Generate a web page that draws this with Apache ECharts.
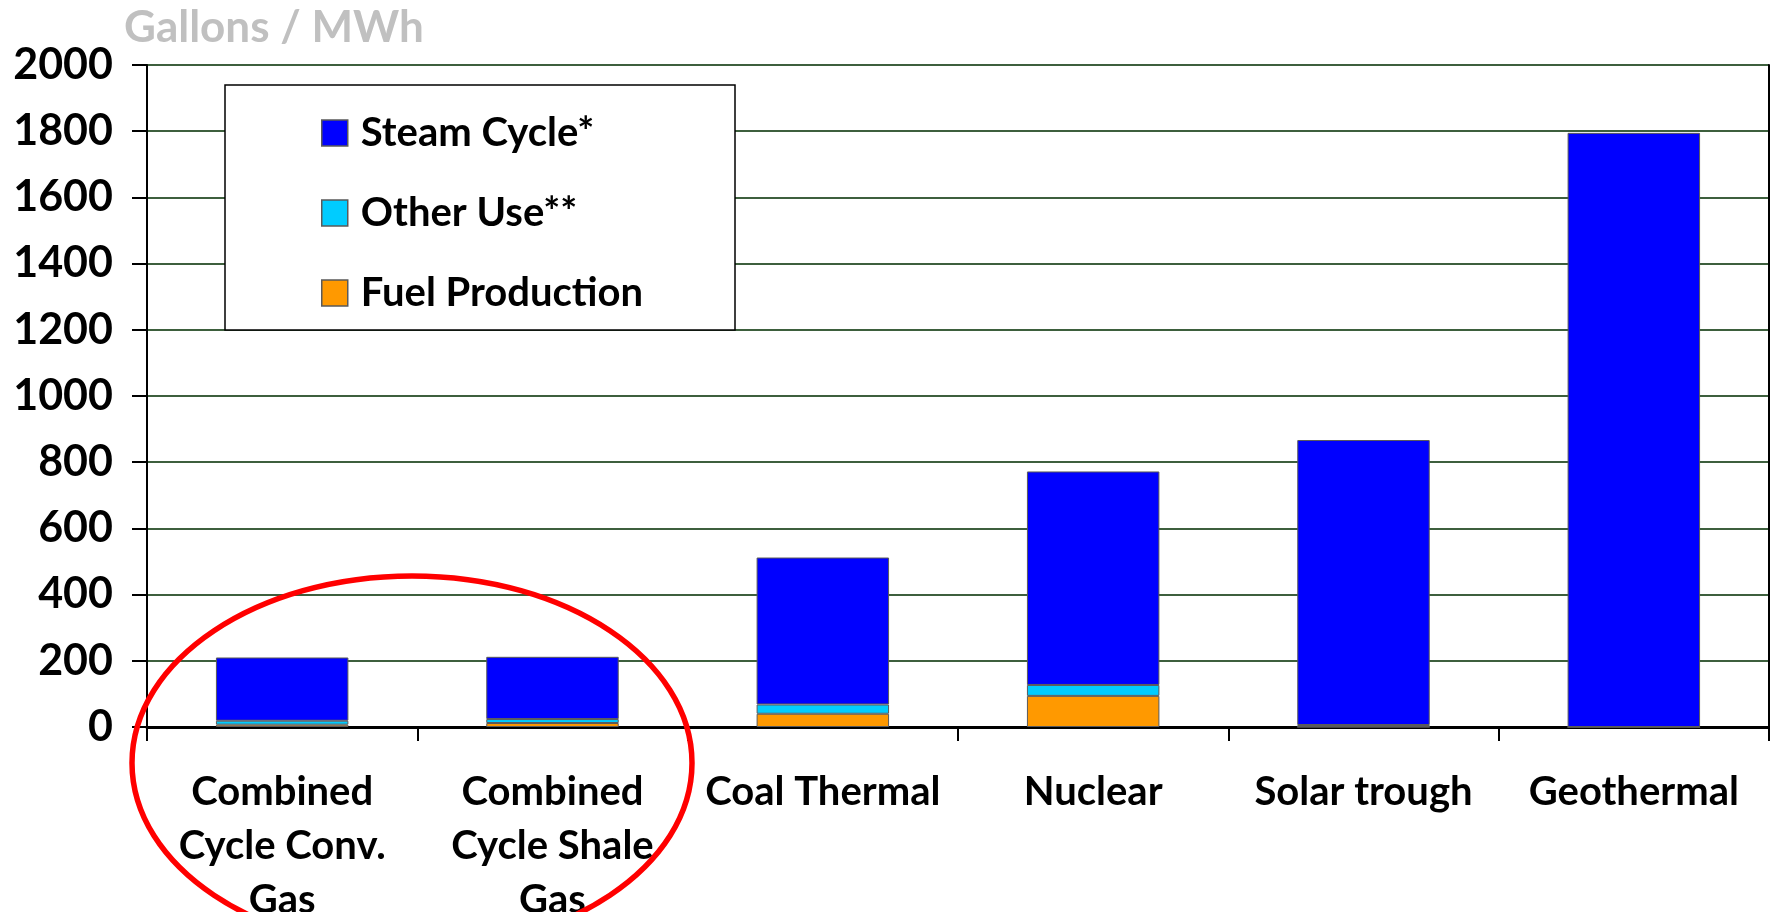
<!DOCTYPE html>
<html>
<head>
<meta charset="utf-8">
<title>Gallons / MWh</title>
<script src="https://cdn.jsdelivr.net/npm/echarts@6/dist/echarts.min.js"></script>
<style>
  html, body { margin: 0; padding: 0; background: #fff; }
  #chart { width: 1770px; height: 912px; }
</style>
</head>
<body>
<div id="chart"></div>
<script>
/* data */
var categories = ['Combined\nCycle Conv.\nGas', 'Combined\nCycle Shale\nGas', 'Coal Thermal', 'Nuclear', 'Solar trough', 'Geothermal'];
var fuelProduction = [7, 12, 40, 94, 0, 0];
var otherUse = [12, 12, 28, 33, 6, 0];
var steamCycle = [191, 188, 444, 645, 861, 1795];
var yTicks = [0, 200, 400, 600, 800, 1000, 1200, 1400, 1600, 1800, 2000];

var FONT = 'Lato';
var chart = echarts.init(document.getElementById('chart'));

function barSeries(name, data, color) {
  return {
    name: name,
    type: 'bar',
    stack: 'total',
    data: data,
    barWidth: '49%',
    itemStyle: { color: color, borderColor: '#5a5a5a', borderWidth: 1 },
    emphasis: { disabled: true }
  };
}

chart.setOption({
  animation: false,
  textStyle: { fontFamily: FONT },
  grid: { left: 147, right: 1, top: 65, bottom: 185, outerBoundsMode: 'none', containLabel: false },
  legend: {
    z: 10,
    orient: 'vertical',
    left: 316,
    top: 108,
    itemWidth: 26,
    itemHeight: 26,
    itemGap: 40,
    icon: 'rect',
    itemStyle: { borderColor: '#5a5a5a', borderWidth: 1.5 },
    textStyle: { fontFamily: FONT, fontWeight: 'bold', fontSize: 40, color: '#000', padding: [0, 0, 0, 8] },
    data: ['Steam Cycle*', 'Other Use**', 'Fuel Production']
  },
  xAxis: [{
    type: 'category',
    data: categories,
    axisLine: { lineStyle: { color: '#000', width: 3 } },
    axisTick: { show: true, length: 14, lineStyle: { color: '#000', width: 2 } },
    axisLabel: {
      interval: 0, color: '#000', fontFamily: FONT, fontWeight: 'bold',
      fontSize: 40, lineHeight: 54, margin: 38
    }
  }, {
    type: 'category',
    position: 'top',
    data: categories,
    axisLine: { lineStyle: { color: '#000', width: 2 } },
    axisTick: { show: false },
    axisLabel: { show: false }
  }],
  yAxis: [{
    type: 'value',
    min: 0,
    max: 2000,
    interval: 200,
    axisLine: { show: true, lineStyle: { color: '#000', width: 2 } },
    axisTick: { show: true, length: 15, lineStyle: { color: '#000', width: 2 } },
    axisLabel: {
      color: '#000', fontFamily: FONT, fontWeight: 'bold', fontSize: 43, margin: 34,
      formatter: function (v) { return yTicks.indexOf(v) >= 0 ? String(v) : ''; }
    },
    splitLine: { show: true, lineStyle: { color: '#3d5f3d', width: 2 } }
  }, {
    type: 'value',
    position: 'right',
    min: 0,
    max: 2000,
    interval: 200,
    axisLine: { show: true, lineStyle: { color: '#000', width: 2 } },
    axisTick: { show: false },
    axisLabel: { show: false },
    splitLine: { show: false }
  }],
  graphic: [{
    type: 'text',
    left: 124,
    top: 6,
    style: { text: 'Gallons / MWh', fill: '#c0c0c0', font: 'bold 44px ' + FONT }
  }, {
    type: 'rect',
    z: 3,
    shape: { x: 225, y: 85, width: 510, height: 245 },
    style: { fill: '#fff', stroke: '#000', lineWidth: 1.5 }
  }, {
    type: 'ellipse',
    z: 20,
    shape: { cx: 412, cy: 763, rx: 280, ry: 187 },
    style: { fill: 'none', stroke: '#ff0000', lineWidth: 5.5 }
  }],
  series: [
    barSeries('Fuel Production', fuelProduction, '#ff9900'),
    barSeries('Other Use**', otherUse, '#00ccff'),
    barSeries('Steam Cycle*', steamCycle, '#0000ff')
  ]
});
</script>
</body>
</html>
